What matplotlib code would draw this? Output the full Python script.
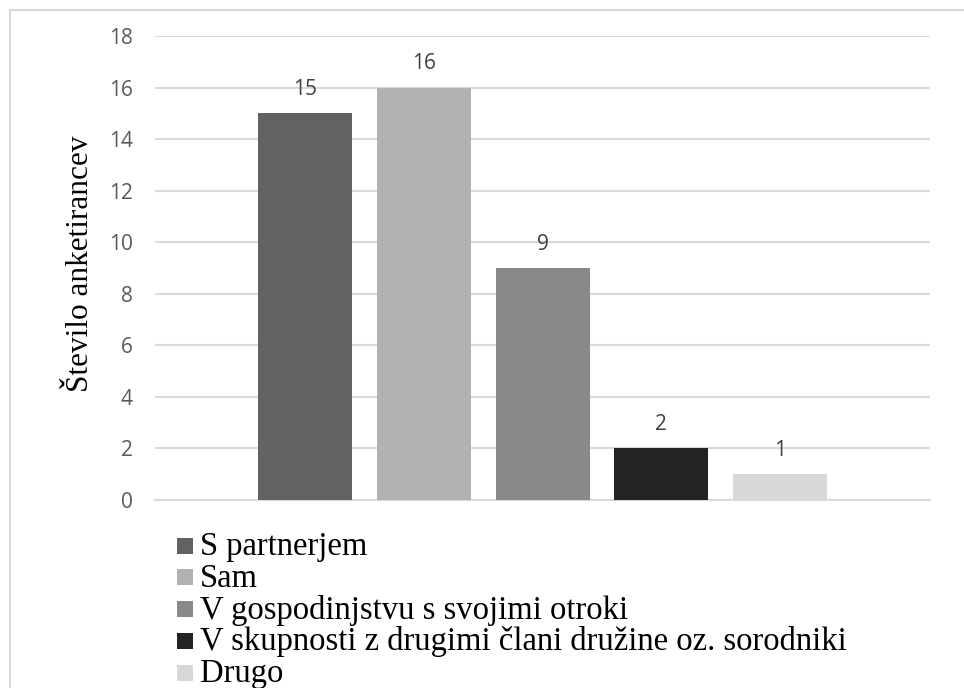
import matplotlib
matplotlib.use("Agg")
import matplotlib.pyplot as plt
from matplotlib.patches import Rectangle

# Survey: living arrangement of respondents
categories = [
    "S partnerjem",
    "Sam",
    "V gospodinjstvu s svojimi otroki",
    "V skupnosti z drugimi člani družine oz. sorodniki",
    "Drugo",
]
counts = [15, 16, 9, 2, 1]
colors = ["#626262", "#B1B1B1", "#898989", "#232323", "#D8D8D8"]
y_ticks = [0, 2, 4, 6, 8, 10, 12, 14, 16, 18]
y_label = "Število anketirancev"

W, H = 964, 688
fig = plt.figure(figsize=(W / 100, H / 100), dpi=100)
fig.patch.set_facecolor("white")

# outer chart frame
fig.add_artist(Rectangle((10 / W, -0.1), 1.2, 1 - 10 / H + 0.1, transform=fig.transFigure,
                         fill=False, edgecolor="#D9D9D9", linewidth=1.5))

left, right, top, bottom = 155, 930, 36, 500
ax = fig.add_axes([left / W, 1 - bottom / H, (right - left) / W, (bottom - top) / H])

bar_w = 1.0
step = 1.265
n = len(counts)
xs = [(i - (n - 1) / 2) * step for i in range(n)]
half_span = (right - left) / 2 / 94.0
ax.bar(xs, counts, width=bar_w, color=colors, zorder=3)
ax.set_xlim(-half_span, half_span)
ax.set_ylim(0, 18)
ax.set_yticks(y_ticks)
ax.set_xticks([])
ax.yaxis.grid(True, color="#D9D9D9", linewidth=1.5, zorder=0)
for s in ["top", "right", "left"]:
    ax.spines[s].set_visible(False)
ax.spines["bottom"].set_color("#D9D9D9")
ax.spines["bottom"].set_linewidth(1.5)
ax.tick_params(axis="y", length=0, pad=16, labelsize=15, labelcolor="#595959")
for lab in ax.get_yticklabels():
    lab.set_fontfamily("Open Sans")

for x, v in zip(xs, counts):
    ax.annotate(str(v), (x, v), xytext=(0, 24), textcoords="offset pixels",
                ha="center", va="center", fontsize=15, color="#404040",
                family="Open Sans")

fig.text(80 / W, 1 - 264 / H, y_label, rotation=90, ha="center", va="center",
         fontsize=22.5, family="Liberation Serif", color="black")

# legend, one entry per row
row0 = 545.5
row_step = 31.8
sq = 16
for i, (name, c) in enumerate(zip(categories, colors)):
    cy = row0 + i * row_step
    fig.add_artist(Rectangle((177 / W, 1 - (cy + sq / 2) / H), sq / W, sq / H,
                             transform=fig.transFigure, facecolor=c, edgecolor="none"))
    fig.text(200 / W, 1 - (cy + 9.5) / H, name, ha="left", va="baseline",
             fontsize=23.5, family="Liberation Serif", color="black")

fig.savefig("out.png", dpi=100)
